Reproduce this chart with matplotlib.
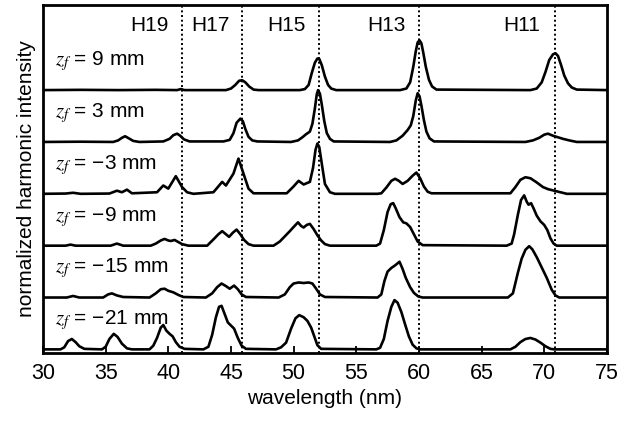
import matplotlib
matplotlib.use("Agg")
import matplotlib.pyplot as plt

plt.rcParams['font.family'] = ['Liberation Sans', 'DejaVu Sans']
plt.rcParams['mathtext.fontset'] = 'stix'

# ---------------- data ----------------
focus_labels = ["$z_f$ = 9 mm", "$z_f$ = 3 mm", "$z_f$ = \u22123 mm",
                "$z_f$ = \u22129 mm", "$z_f$ = \u221215 mm", "$z_f$ = \u221221 mm"]

harmonic_names = ["H19", "H17", "H15", "H13", "H11"]
harmonic_label_x = [38.5, 43.35, 49.45, 57.4, 68.2]
harmonic_lines = [41.1, 45.9, 52.0, 60.0, 70.9]

wl_9 = [30, 33, 36, 39, 40.7, 41.0, 41.3, 44.6, 45.0, 45.35, 45.65, 45.9, 46.15, 46.45, 46.8, 47.2,
        50.5, 50.9, 51.2, 51.45, 51.7, 51.9, 52.05, 52.25, 52.5, 52.75, 53.0, 53.4,
        58.5, 59.0, 59.3, 59.55, 59.75, 59.9, 60.05, 60.2, 60.35, 60.55, 60.8, 61.05, 61.4,
        68.9, 69.4, 69.8, 70.1, 70.4, 70.7, 70.9, 71.1, 71.35, 71.6, 71.9, 72.2, 72.6, 75]
int_9 = [0, 0.005, 0, 0.005, 0, 0.02, 0, 0, 0.03, 0.1, 0.18, 0.19, 0.15, 0.07, 0.01, 0,
         0, 0.02, 0.1, 0.33, 0.53, 0.61, 0.6, 0.48, 0.26, 0.1, 0.03, 0,
         0, 0.03, 0.15, 0.45, 0.75, 0.92, 0.96, 0.9, 0.72, 0.45, 0.2, 0.07, 0.01,
         0, 0.03, 0.15, 0.35, 0.58, 0.69, 0.71, 0.66, 0.48, 0.28, 0.13, 0.05, 0.01, 0]

wl_3 = [30, 33, 35.6, 36.0, 36.3, 36.55, 36.85, 37.2, 37.7, 39.6, 40.1, 40.4, 40.7, 40.95, 41.25, 41.7,
        44.4, 44.9, 45.2, 45.45, 45.75, 45.95, 46.15, 46.4, 46.7, 47.1,
        49.8, 50.35, 50.7, 51.0, 51.3, 51.5, 51.7, 51.85, 51.95, 52.1, 52.25, 52.45, 52.65, 52.9, 53.2,
        57.7, 58.2, 58.7, 59.1, 59.35, 59.55, 59.75, 59.9, 60.05, 60.2, 60.4, 60.6, 60.85, 61.2,
        68.5, 69.1, 69.6, 70.0, 70.3, 70.7, 71.1, 71.5, 72.0, 72.6, 75]
int_3 = [0, 0.005, 0, 0.03, 0.08, 0.11, 0.07, 0.02, 0, 0.01, 0.06, 0.13, 0.16, 0.12, 0.05, 0.01,
         0.01, 0.04, 0.17, 0.37, 0.45, 0.4, 0.25, 0.1, 0.03, 0.01,
         0, 0.03, 0.09, 0.15, 0.2, 0.35, 0.65, 0.92, 1.0, 0.93, 0.72, 0.4, 0.17, 0.06, 0.01,
         0, 0.03, 0.12, 0.23, 0.32, 0.5, 0.8, 0.94, 0.88, 0.7, 0.42, 0.2, 0.07, 0.01,
         0, 0.03, 0.08, 0.14, 0.16, 0.12, 0.09, 0.06, 0.03, 0, 0]

wl_m3 = [30, 31.8, 32.4, 33.0, 35.3, 35.9, 36.3, 36.7, 37.1, 39.1, 39.6, 40.0, 40.6, 41.1, 41.5, 42.0,
         43.6, 44.3, 44.6, 45.2, 45.6, 46.0, 46.4, 46.8,
         49.45, 49.95, 50.4, 50.8, 51.3, 51.55, 51.75, 51.9, 52.05, 52.25, 52.5, 52.9, 53.3,
         56.7, 57.0, 57.4, 57.8, 58.1, 58.4, 58.7, 59.1, 59.5, 59.8, 60.1, 60.4, 60.7, 61.0,
         67.3, 67.7, 68.1, 68.5, 68.9, 69.4, 69.9, 70.3, 70.8, 71.3, 71.8, 75]
int_m3 = [0, 0.005, 0.02, 0, 0.005, 0.06, 0.03, 0.08, 0.01, 0.03, 0.16, 0.1, 0.34, 0.13, 0.03, 0,
          0.03, 0.23, 0.16, 0.39, 0.68, 0.39, 0.1, 0.01,
          0.01, 0.13, 0.25, 0.18, 0.23, 0.5, 0.85, 0.97, 0.9, 0.58, 0.19, 0.03, 0,
          0, 0.01, 0.12, 0.25, 0.29, 0.25, 0.19, 0.25, 0.35, 0.41, 0.3, 0.14, 0.04, 0.01,
          0.01, 0.13, 0.27, 0.32, 0.3, 0.22, 0.13, 0.09, 0.06, 0.03, 0, 0]

wl_m9 = [30, 31.8, 32.2, 32.6, 35.4, 35.9, 36.4, 38.6, 39.0, 39.4, 39.7, 40.0, 40.2, 40.5, 40.8, 41.1, 41.6,
         43.1, 43.6, 44.0, 44.3, 44.6, 44.85, 45.15, 45.45, 45.75, 46.05, 46.4, 46.8,
         48.4, 48.9, 49.3, 49.7, 50.0, 50.35, 50.6, 50.8, 51.05, 51.3, 51.6, 51.9, 52.2, 52.5, 52.9,
         56.6, 56.9, 57.2, 57.5, 57.75, 57.95, 58.15, 58.45, 58.75, 59.0, 59.3, 59.6, 59.9, 60.3,
         67.0, 67.4, 67.6, 67.9, 68.15, 68.4, 68.6, 68.75, 68.95, 69.15, 69.4, 69.7, 70.0, 70.25, 70.5,
         70.75, 71.0, 75]
int_m9 = [0, 0, 0.02, 0, 0, 0.04, 0, 0, 0.04, 0.1, 0.13, 0.1, 0.09, 0.11, 0.07, 0.03, 0,
          0, 0.12, 0.22, 0.28, 0.22, 0.17, 0.25, 0.31, 0.22, 0.11, 0.03, 0,
          0, 0.08, 0.18, 0.28, 0.36, 0.45, 0.38, 0.35, 0.4, 0.42, 0.32, 0.2, 0.1, 0.03, 0,
          0, 0.04, 0.3, 0.65, 0.8, 0.82, 0.72, 0.55, 0.45, 0.43, 0.36, 0.22, 0.08, 0.01,
          0, 0.04, 0.22, 0.6, 0.88, 0.97, 0.85, 0.79, 0.82, 0.72, 0.58, 0.47, 0.4, 0.3, 0.14,
          0.04, 0, 0]

wl_m15 = [30, 31.9, 32.4, 32.9, 34.8, 35.2, 35.5, 35.9, 36.4,
          38.5, 39.0, 39.4, 39.7, 40.0, 40.4, 40.8, 41.2,
          43.0, 43.5, 43.9, 44.25, 44.6, 44.9, 45.25, 45.55, 45.85, 46.2,
          48.8, 49.3, 49.7, 50.0, 50.4, 50.8, 51.2, 51.5, 51.8, 52.1, 52.5,
          56.7, 57.0, 57.25, 57.5, 57.8, 58.1, 58.45, 58.7, 58.95, 59.3, 59.6, 59.95, 60.3,
          67.1, 67.5, 67.9, 68.2, 68.5, 68.8, 69.05, 69.4, 69.8, 70.2, 70.6, 70.9, 71.2, 75]
int_m15 = [0, 0, 0.03, 0, 0, 0.06, 0.08, 0.04, 0.01,
           0, 0.08, 0.16, 0.17, 0.13, 0.1, 0.05, 0.01,
           0, 0.08, 0.2, 0.27, 0.22, 0.17, 0.23, 0.16, 0.06, 0.01,
           0, 0.06, 0.2, 0.27, 0.29, 0.28, 0.29, 0.27, 0.17, 0.06, 0.01,
           0, 0.06, 0.32, 0.5, 0.57, 0.62, 0.69, 0.55, 0.38, 0.2, 0.09, 0.02, 0,
           0, 0.08, 0.48, 0.75, 0.92, 0.99, 0.93, 0.78, 0.58, 0.38, 0.15, 0.04, 0, 0]

wl_m21 = [30, 31.4, 31.7, 32.0, 32.3, 32.6, 32.9, 33.3, 34.7, 35.0, 35.3, 35.65, 35.95, 36.3, 36.7, 37.1,
          38.5, 38.8, 39.1, 39.4, 39.6, 39.85, 40.1, 40.35, 40.6, 40.9, 41.3,
          42.8, 43.2, 43.5, 43.8, 44.05, 44.25, 44.5, 44.75, 45.0, 45.25, 45.55, 45.85, 46.2,
          48.6, 49.0, 49.4, 49.8, 50.15, 50.45, 50.8, 51.1, 51.4, 51.65, 51.9, 52.2,
          56.6, 56.9, 57.2, 57.5, 57.8, 58.05, 58.3, 58.6, 58.9, 59.2, 59.5, 59.8, 60.1,
          67.3, 67.7, 68.1, 68.5, 68.9, 69.3, 69.7, 70.1, 70.5, 70.8, 75]
int_m21 = [0, 0, 0.04, 0.16, 0.2, 0.14, 0.06, 0.01, 0, 0.05, 0.2, 0.3, 0.24, 0.11, 0.02, 0,
           0, 0.07, 0.22, 0.42, 0.47, 0.36, 0.3, 0.25, 0.14, 0.05, 0.01,
           0, 0.05, 0.28, 0.62, 0.82, 0.84, 0.68, 0.52, 0.46, 0.4, 0.22, 0.07, 0.01,
           0, 0.04, 0.13, 0.4, 0.6, 0.66, 0.62, 0.55, 0.42, 0.25, 0.08, 0.01,
           0, 0.03, 0.2, 0.55, 0.82, 0.95, 0.9, 0.72, 0.48, 0.25, 0.09, 0.02, 0,
           0, 0.05, 0.14, 0.2, 0.22, 0.19, 0.13, 0.06, 0.01, 0, 0]

spectra_x = [wl_9, wl_3, wl_m3, wl_m9, wl_m15, wl_m21]
spectra_y = [int_9, int_3, int_m3, int_m9, int_m15, int_m21]
x_ticks = [30, 35, 40, 45, 50, 55, 60, 65, 70, 75]

# ---------------- figure ----------------
fig = plt.figure(figsize=(6.35, 4.22), dpi=100)
ax = fig.add_axes([0.0677, 0.1635, 0.888, 0.8245])

n = len(spectra_x)
for i, (xs, ys) in enumerate(zip(spectra_x, spectra_y)):
    off = n - 1 - i
    ax.plot(xs, [v + off for v in ys], color='black', lw=1.9, solid_joinstyle='round', zorder=3)
    ax.text(30.95, off + 0.56, focus_labels[i], fontsize=15, va='center', ha='left', zorder=4)

for xv in harmonic_lines:
    ax.axvline(xv, color='black', lw=1.4, linestyle=(0, (1, 1.4)), zorder=2)

for name, xv in zip(harmonic_names, harmonic_label_x):
    ax.text(xv, 6.25, name, fontsize=15, ha='center', va='center')

ax.set_xlim(30, 75)
ax.set_ylim(-0.07, 6.64)
ax.set_xticks(x_ticks)
ax.set_yticks([])
ax.tick_params(axis='x', direction='in', length=5, width=1.3, labelsize=15.5, pad=7)
for s in ax.spines.values():
    s.set_linewidth(2.0)
ax.set_xlabel("wavelength (nm)", fontsize=15, labelpad=4)
ax.set_ylabel("normalized harmonic intensity", fontsize=15, labelpad=5)

fig.savefig("out.png", dpi=100)
